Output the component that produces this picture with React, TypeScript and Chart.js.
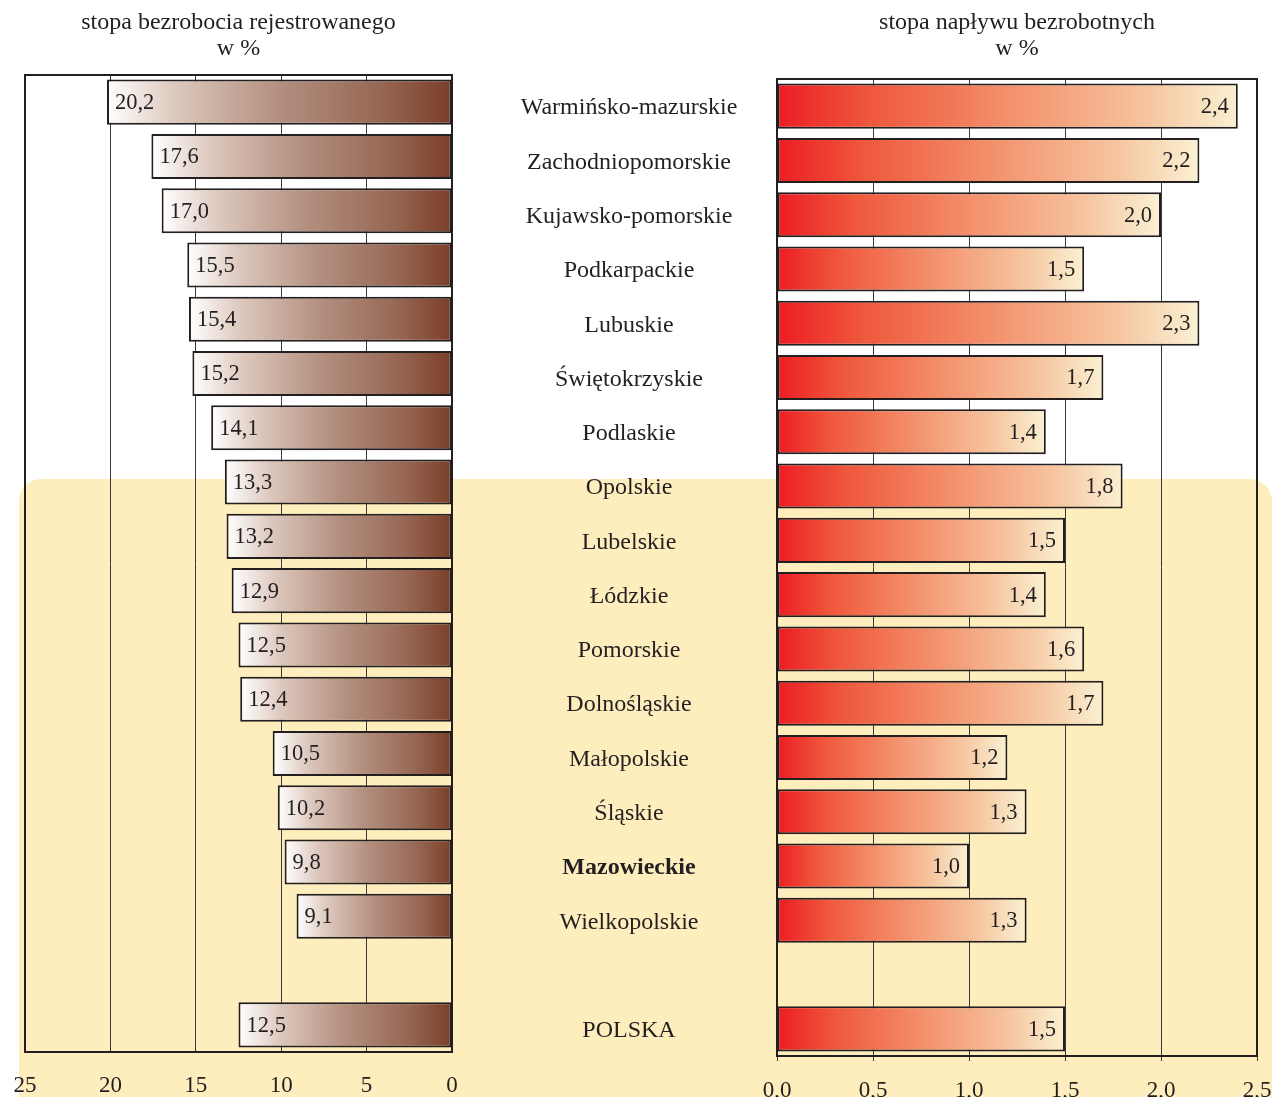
import React, { useEffect, useRef } from 'react';
import { Chart, registerables } from 'chart.js';

Chart.register(...registerables);

// ---- data ----
const regions: string[] = [
  'Warmińsko-mazurskie',
  'Zachodniopomorskie',
  'Kujawsko-pomorskie',
  'Podkarpackie',
  'Lubuskie',
  'Świętokrzyskie',
  'Podlaskie',
  'Opolskie',
  'Lubelskie',
  'Łódzkie',
  'Pomorskie',
  'Dolnośląskie',
  'Małopolskie',
  'Śląskie',
  'Mazowieckie',
  'Wielkopolskie',
  '',
  'POLSKA',
];

const boldRegions: string[] = ['Mazowieckie'];

// stopa bezrobocia rejestrowanego w %
const unemploymentRate: (number | null)[] = [
  20.2, 17.6, 17.0, 15.5, 15.4, 15.2, 14.1, 13.3, 13.2, 12.9, 12.5, 12.4, 10.5, 10.2, 9.8, 9.1, null, 12.5,
];

// stopa napływu bezrobotnych w % (bar lengths as drawn)
const inflowRate: (number | null)[] = [
  2.4, 2.2, 2.0, 1.6, 2.2, 1.7, 1.4, 1.8, 1.5, 1.4, 1.6, 1.7, 1.2, 1.3, 1.0, 1.3, null, 1.5,
];

// printed value labels on the inflow bars
const inflowLabels: string[] = [
  '2,4', '2,2', '2,0', '1,5', '2,3', '1,7', '1,4', '1,8', '1,5', '1,4', '1,6', '1,7', '1,2', '1,3', '1,0', '1,3', '', '1,5',
];

const leftTitle: string[] = ['stopa bezrobocia rejestrowanego', 'w %'];
const rightTitle: string[] = ['stopa napływu bezrobotnych', 'w %'];

const leftAxisMin = 0;
const leftAxisMax = 25;
const leftAxisStep = 5;
const rightAxisMin = 0;
const rightAxisMax = 2.5;
const rightAxisStep = 0.5;

// ---- styles ----
const FONT = "'Liberation Serif', 'Times New Roman', serif";
const INK = '#231F20';
const GRID = '#3a3a3a';

const fmt = (v: number, d: number) => v.toFixed(d).replace('.', ',');

const framePlugin = {
  id: 'frame',
  beforeDatasetsDraw(chart: any) {
    const { ctx, chartArea: a } = chart;
    ctx.save();
    ctx.strokeStyle = INK;
    ctx.lineWidth = 2;
    ctx.strokeRect(a.left, a.top, a.right - a.left, a.bottom - a.top);
    ctx.restore();
  },
};

const titlePlugin = (lines: string[]) => ({
  id: 'titleLines',
  afterDraw(chart: any) {
    const { ctx, chartArea: a } = chart;
    const cx = (a.left + a.right) / 2;
    ctx.save();
    ctx.fillStyle = INK;
    ctx.font = `24px ${FONT}`;
    ctx.textAlign = 'center';
    ctx.textBaseline = 'middle';
    lines.forEach((t, i) => ctx.fillText(t, cx, 23 + i * 26));
    ctx.restore();
  },
});

const valueLabelPlugin = (side: 'left' | 'right', labels: (i: number) => string) => ({
  id: 'valueLabels',
  afterDatasetsDraw(chart: any) {
    const { ctx } = chart;
    const meta = chart.getDatasetMeta(0);
    ctx.save();
    ctx.fillStyle = INK;
    ctx.font = `22.5px ${FONT}`;
    ctx.textBaseline = 'middle';
    meta.data.forEach((el: any, i: number) => {
      const txt = labels(i);
      if (!txt) return;
      if (side === 'left') {
        ctx.textAlign = 'left';
        ctx.fillText(txt, el.x + 8, el.y + 1);
      } else {
        ctx.textAlign = 'right';
        ctx.fillText(txt, el.x - 9, el.y + 1);
      }
    });
    ctx.restore();
  },
});

const categoryLabelPlugin = (centerX: number) => ({
  id: 'categoryLabels',
  afterDraw(chart: any) {
    const { ctx } = chart;
    const ys = chart.scales.y;
    ctx.save();
    ctx.fillStyle = INK;
    ctx.textAlign = 'center';
    ctx.textBaseline = 'middle';
    regions.forEach((r, i) => {
      if (!r) return;
      const bold = boldRegions.includes(r);
      ctx.font = `${bold ? 'bold ' : ''}24px ${FONT}`;
      ctx.fillText(r, centerX, ys.getPixelForValue(i) + 2);
    });
    ctx.restore();
  },
});

function leftGradient(c: any) {
  const chart = c.chart;
  const xs = chart.scales?.x;
  if (!xs || c.raw == null) return '#8a5038';
  const x0 = xs.getPixelForValue(0);
  const x1 = xs.getPixelForValue(c.raw);
  if (!isFinite(x0) || !isFinite(x1) || x0 === x1) return '#8a5038';
  const g = chart.ctx.createLinearGradient(x1, 0, x0, 0);
  g.addColorStop(0, '#FFFFFF');
  g.addColorStop(0.2, '#DCC7BC');
  g.addColorStop(0.5, '#B38F7F');
  g.addColorStop(0.8, '#966653');
  g.addColorStop(1, '#7A3E28');
  return g;
}

function rightGradient(c: any) {
  const chart = c.chart;
  const xs = chart.scales?.x;
  if (!xs || c.raw == null) return '#F07050';
  const x0 = xs.getPixelForValue(0);
  const x1 = xs.getPixelForValue(c.raw);
  if (!isFinite(x0) || !isFinite(x1) || x0 === x1) return '#F07050';
  const g = chart.ctx.createLinearGradient(x0, 0, x1, 0);
  g.addColorStop(0, '#EC1C24');
  g.addColorStop(0.2, '#EF573B');
  g.addColorStop(0.5, '#F38F6B');
  g.addColorStop(0.8, '#F6C49E');
  g.addColorStop(1, '#FAF1D3');
  return g;
}

export default function App() {
  const leftRef = useRef<HTMLCanvasElement | null>(null);
  const rightRef = useRef<HTMLCanvasElement | null>(null);

  useEffect(() => {
    if (!leftRef.current || !rightRef.current) return;

    const left = new Chart(leftRef.current, {
      type: 'bar',
      data: {
        labels: regions,
        datasets: [
          {
            data: unemploymentRate,
            backgroundColor: leftGradient,
            borderColor: INK,
            borderWidth: 2,
            borderSkipped: false,
            barPercentage: 0.83,
            categoryPercentage: 1,
          },
        ],
      },
      options: {
        indexAxis: 'y',
        responsive: false,
        animation: false,
        events: [],
        layout: { padding: { left: 25, right: 18, top: 75, bottom: 0 } },
        plugins: { legend: { display: false }, title: { display: false }, tooltip: { enabled: false } },
        scales: {
          y: { type: 'category', display: false },
          x: {
            type: 'linear',
            position: 'bottom',
            reverse: true,
            min: leftAxisMin,
            max: leftAxisMax,
            afterFit: (s: any) => { s.height = 45; s.paddingLeft = 0; s.paddingRight = 0; },
            border: { display: false },
            grid: { color: GRID, lineWidth: 1, drawTicks: false },
            ticks: {
              stepSize: leftAxisStep,
              padding: 20,
              color: INK,
              font: { family: FONT, size: 23 },
              callback: (v: any) => fmt(Number(v), 0),
            },
          },
        },
      },
      plugins: [framePlugin, titlePlugin(leftTitle), valueLabelPlugin('left', (i) => (unemploymentRate[i] == null ? '' : fmt(unemploymentRate[i] as number, 1)))],
    } as any);

    const right = new Chart(rightRef.current, {
      type: 'bar',
      data: {
        labels: regions,
        datasets: [
          {
            data: inflowRate,
            backgroundColor: rightGradient,
            borderColor: INK,
            borderWidth: 2,
            borderSkipped: false,
            barPercentage: 0.83,
            categoryPercentage: 1,
          },
        ],
      },
      options: {
        indexAxis: 'y',
        responsive: false,
        animation: false,
        events: [],
        layout: { padding: { left: 307, right: 26, top: 79, bottom: 0 } },
        plugins: { legend: { display: false }, title: { display: false }, tooltip: { enabled: false } },
        scales: {
          y: { type: 'category', display: false },
          x: {
            type: 'linear',
            position: 'bottom',
            min: rightAxisMin,
            max: rightAxisMax,
            afterFit: (s: any) => { s.height = 41; s.paddingLeft = 0; s.paddingRight = 0; },
            border: { display: false },
            grid: { color: GRID, lineWidth: 1, drawTicks: true, tickLength: 5 },
            ticks: {
              stepSize: rightAxisStep,
              padding: 16,
              color: INK,
              font: { family: FONT, size: 23 },
              callback: (v: any) => fmt(Number(v), 1),
            },
          },
        },
      },
      plugins: [framePlugin, titlePlugin(rightTitle), valueLabelPlugin('right', (i) => inflowLabels[i]), categoryLabelPlugin(629 - 470)],
    } as any);

    return () => {
      left.destroy();
      right.destroy();
    };
  }, []);

  return (
    <div
      style={{
        position: 'fixed',
        left: 0,
        top: 0,
        width: 1283,
        height: 1097,
        background: '#FFFFFF',
        overflow: 'hidden',
      }}
    >
      <div
        style={{
          position: 'absolute',
          left: 19,
          top: 479,
          width: 1253,
          height: 660,
          borderRadius: 22,
          background: '#FEEDBD',
        }}
      />
      <canvas
        ref={leftRef}
        width={470}
        height={1097}
        style={{ position: 'absolute', left: 0, top: 0, width: 470, height: 1097 }}
      />
      <canvas
        ref={rightRef}
        width={813}
        height={1097}
        style={{ position: 'absolute', left: 470, top: 0, width: 813, height: 1097 }}
      />
    </div>
  );
}
